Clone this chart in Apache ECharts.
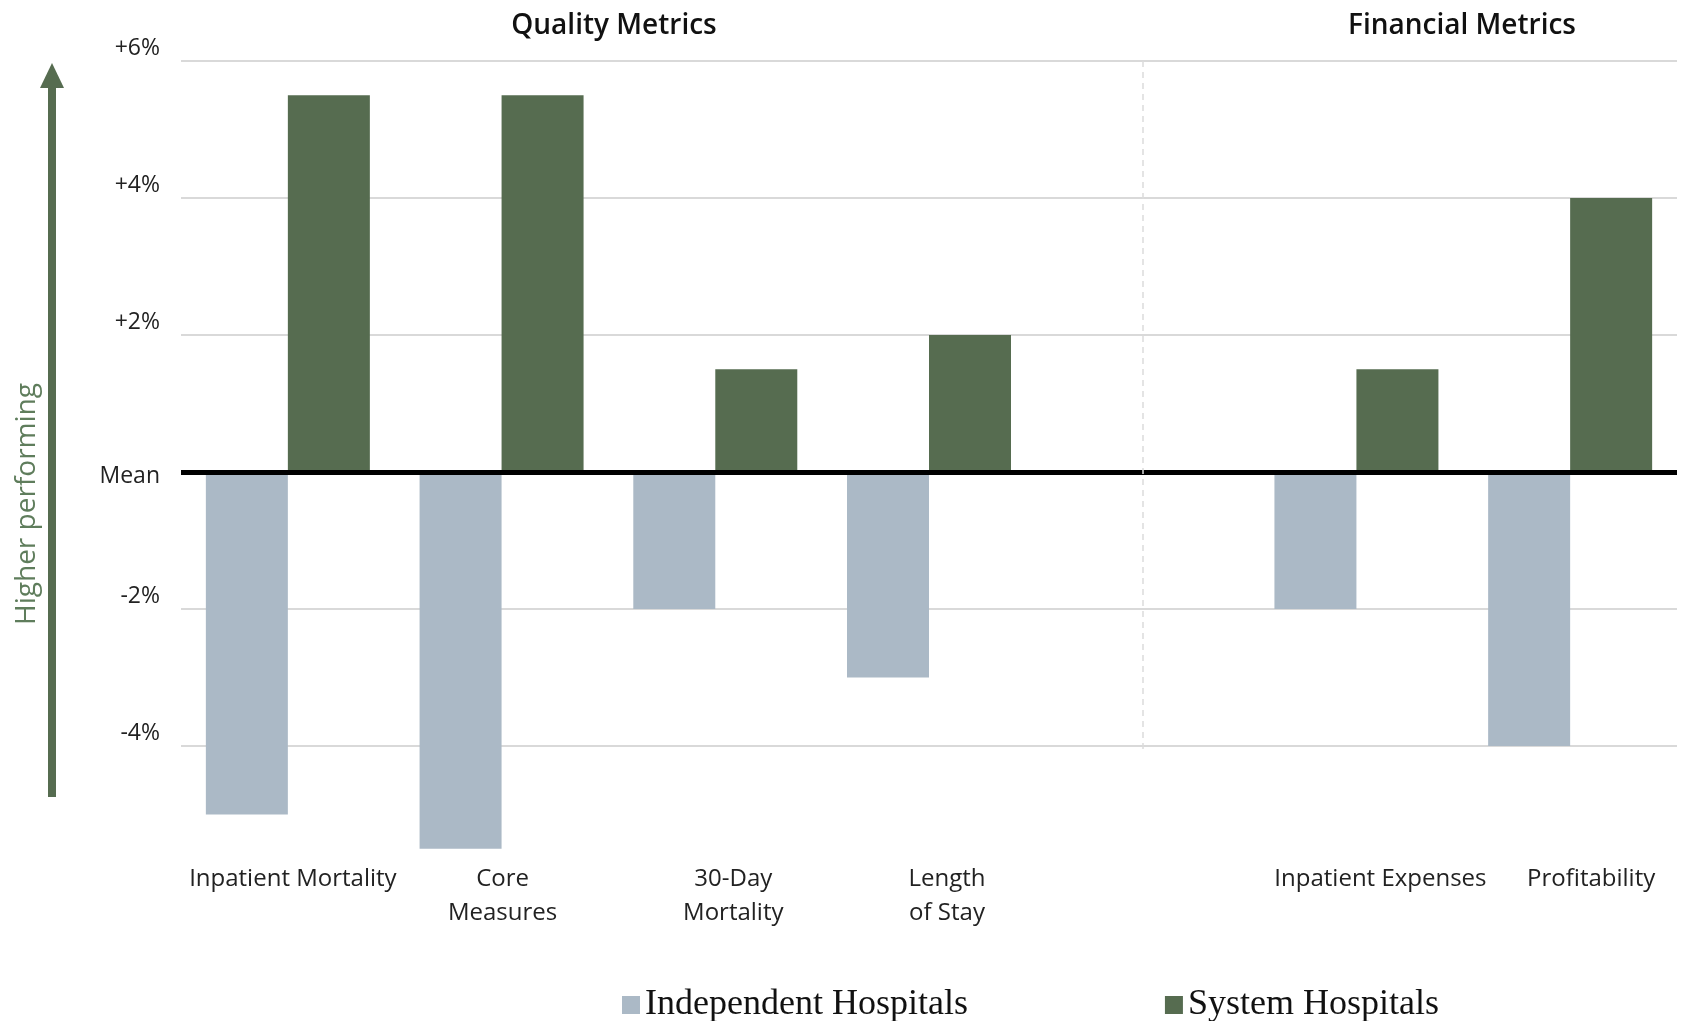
<!DOCTYPE html>
<html>
<head>
<meta charset="utf-8">
<script src="https://cdn.jsdelivr.net/npm/echarts@6/dist/echarts.min.js"></script>
<style>
  html, body { margin: 0; padding: 0; background: #fff; }
  #chart { width: 1682px; height: 1021px; }
</style>
</head>
<body>
<div id="chart"></div>
<script>
// categories (the empty one is the spacer between the two groups)
const categories = ['Inpatient Mortality', 'Core\nMeasures', '30-Day\nMortality', 'Length\nof Stay', '', 'Inpatient Expenses', 'Profitability']
const independent = [-5, -5.5, -2, -3, null, -2, -4]
const system = [5.5, 5.5, 1.5, 2, null, 1.5, 4]
const groupTitles = ['Quality Metrics', 'Financial Metrics']
const dividerIndex = 4
const dividerRange = [6, -4.1]

const GREEN = '#566c50'
const GREY = '#abb9c6'
const SANS = '"Open Sans", Lato, sans-serif'
// labels in the original sit a little right of the category centre
const labelShift = [5, 1, 18, 18, 0, 24, 21]

const chart = echarts.init(document.getElementById('chart'))

function tickLabel(v) {
  if (v === 0) return '{m|Mean}'
  return '{p|' + (v > 0 ? '+' : '') + v + '%}'
}

const titleStyle = { fontFamily: SANS, fontSize: 28, fontWeight: 600, color: '#111' }

chart.setOption({
  animation: false,
  title: [
    { text: groupTitles[0], left: 614, top: 12, textAlign: 'center', padding: 0, textStyle: titleStyle },
    { text: groupTitles[1], left: 1462, top: 12, textAlign: 'center', padding: 0, textStyle: titleStyle },
  ],
  legend: {
    data: ['Independent Hospitals', 'System Hospitals'],
    left: 617,
    top: 982,
    icon: 'rect',
    itemWidth: 18,
    itemHeight: 18,
    itemGap: 197,
    textStyle: { fontFamily: '"Liberation Serif", serif', fontSize: 36, color: '#111' },
  },
  grid: { left: 181, right: 5, top: 61, bottom: 138 },
  xAxis: {
    type: 'category',
    data: categories.map((c, i) => ({ value: c, textStyle: { padding: [0, 0, 0, labelShift[i] * 2] } })),
    offset: -34,
    axisLine: { show: false },
    axisTick: { show: false },
    axisLabel: { interval: 0, margin: 13, fontFamily: SANS, fontSize: 24, lineHeight: 34, color: '#222' },
  },
  yAxis: {
    type: 'value',
    min: -6,
    max: 6,
    interval: 2,
    axisLine: { show: false },
    axisTick: { show: false },
    splitLine: { showMinLine: false, lineStyle: { color: '#d9d9d9', width: 2 } },
    axisLabel: {
      showMinLabel: false,
      margin: 21,
      formatter: tickLabel,
      rich: {
        p: { fontFamily: SANS, fontSize: 23, color: '#222', padding: [0, 0, 25, 0] },
        m: { fontFamily: SANS, fontSize: 23, color: '#222', padding: [9, 0, 0, 0] },
      },
    },
  },
  graphic: [
    { type: 'rect', shape: { x: 48, y: 86, width: 8, height: 711 }, style: { fill: GREEN } },
    { type: 'polygon', shape: { points: [[52, 63], [40, 88], [64, 88]] }, style: { fill: GREEN } },
    { type: 'text', x: 27, y: 504, rotation: Math.PI / 2,
      style: { text: 'Higher performing', fill: '#5f7d5c', font: '28px ' + SANS, align: 'center', verticalAlign: 'middle' } },
  ],
  series: [
    {
      name: 'Independent Hospitals',
      type: 'bar',
      data: independent,
      barWidth: 82,
      barGap: '0%',
      itemStyle: { color: GREY },
    },
    {
      name: 'System Hospitals',
      type: 'bar',
      data: system,
      barWidth: 82,
      itemStyle: { color: GREEN },
    },
    {
      // carrier for the mean line and the group divider
      name: 'guides',
      type: 'line',
      data: [],
      silent: true,
      markLine: {
        silent: true,
        symbol: 'none',
        label: { show: false },
        data: [
          { yAxis: 0, lineStyle: { color: '#000', width: 5, type: 'solid' } },
          [
            { coord: [dividerIndex, dividerRange[0]], lineStyle: { color: '#dcdcdc', width: 1.5, type: [6, 5] } },
            { coord: [dividerIndex, dividerRange[1]] },
          ],
        ],
      },
    },
  ],
})
</script>
</body>
</html>
